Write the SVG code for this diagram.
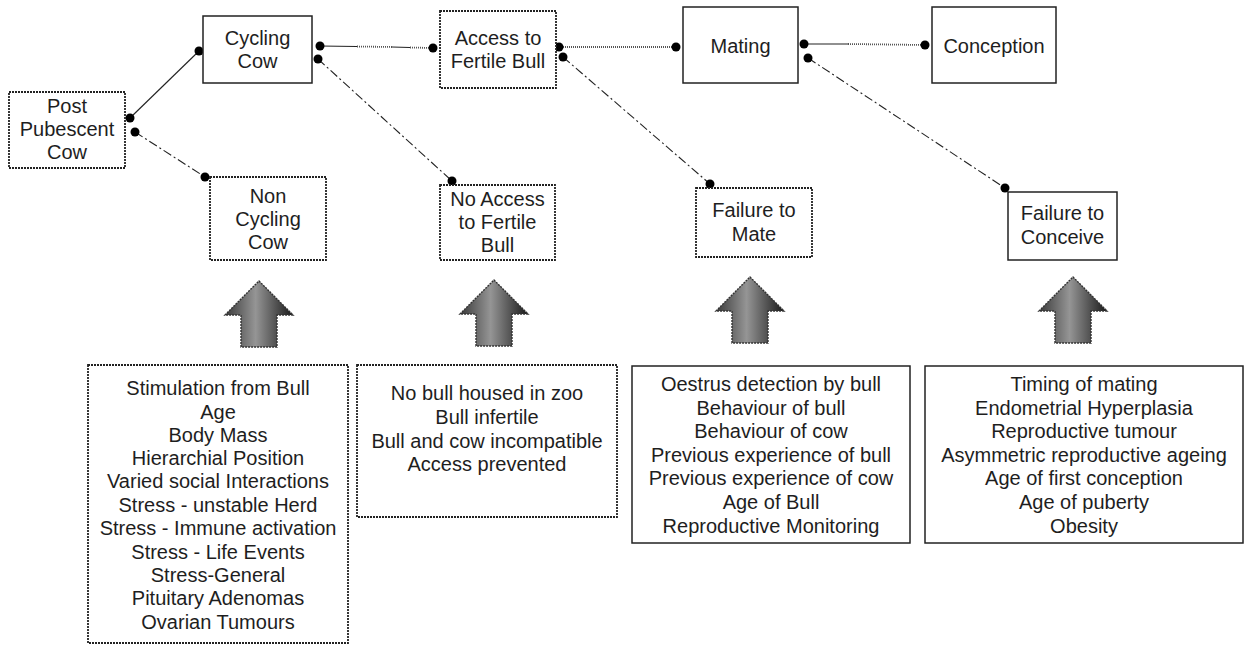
<svg xmlns="http://www.w3.org/2000/svg" width="1245" height="648" viewBox="0 0 1245 648">
<style>
  .box{fill:#fff;stroke:#222;stroke-width:1.5}
  .dot{stroke-dasharray:2 1;stroke-width:1.8}
  .t{font-family:"Liberation Sans",Arial,Helvetica,sans-serif;font-size:20px;fill:#1e1e1e;text-anchor:middle}
  .c{fill:none;stroke:#222;stroke-width:1.1}
  .dd{stroke-dasharray:9 3 2 3}
  .zz{stroke:#555;stroke-width:1.8;stroke-dasharray:1 1}
  .arr{fill:url(#g);stroke:#333;stroke-width:1.4;stroke-dasharray:2 1}
</style>
<defs>
  <linearGradient id="g" x1="0" y1="0" x2="1" y2="0">
    <stop offset="0" stop-color="#3a3a3a"/>
    <stop offset="0.45" stop-color="#959595"/>
    <stop offset="1" stop-color="#1a1a1a"/>
  </linearGradient>
  <marker id="m" viewBox="-5 -5 10 10" markerWidth="10" markerHeight="10" markerUnits="userSpaceOnUse" refX="0" refY="0">
    <circle r="4.5" fill="#000"/>
  </marker>
  <path id="up" d="M0,0 L34,34 L18,34 L18,66 L-18,66 L-18,34 L-34,34 Z"/>
</defs>

<g id="connectors">
  <line class="c" x1="130" y1="118" x2="199" y2="51" marker-start="url(#m)" marker-end="url(#m)"/>
  <line class="c dd" x1="135" y1="132" x2="205" y2="177" marker-start="url(#m)" marker-end="url(#m)"/>
  <g>
    <line class="c" x1="320" y1="46" x2="357" y2="46.5" marker-start="url(#m)"/>
    <line class="c zz" x1="357" y1="46.5" x2="392" y2="47"/>
    <line class="c" x1="392" y1="47" x2="410" y2="47.5"/>
    <line class="c zz" x1="410" y1="47.5" x2="433" y2="48" marker-end="url(#m)"/>
  </g>
  <line class="c dd" x1="318" y1="59" x2="452" y2="181" marker-start="url(#m)" marker-end="url(#m)"/>
  <line class="c zz" x1="559" y1="47" x2="676" y2="47" marker-start="url(#m)" marker-end="url(#m)"/>
  <line class="c dd" x1="563" y1="57" x2="710" y2="184" marker-start="url(#m)" marker-end="url(#m)"/>
  <g>
    <line class="c" x1="804" y1="44" x2="848" y2="44" marker-start="url(#m)"/>
    <line class="c zz" x1="848" y1="44" x2="925" y2="45" marker-end="url(#m)"/>
  </g>
  <line class="c dd" x1="808" y1="58" x2="1005" y2="188" marker-start="url(#m)" marker-end="url(#m)"/>
</g>

<g id="post-pubescent-cow">
  <rect class="box dot" x="9" y="92" width="116" height="76"/>
  <text class="t" x="67" y="113">Post</text>
  <text class="t" x="67" y="136">Pubescent</text>
  <text class="t" x="67" y="159">Cow</text>
</g>
<g id="cycling-cow">
  <rect class="box" x="203" y="16" width="109" height="67"/>
  <text class="t" x="257.5" y="45">Cycling</text>
  <text class="t" x="257.5" y="68">Cow</text>
</g>
<g id="non-cycling-cow">
  <rect class="box dot" x="210" y="177" width="116" height="83"/>
  <text class="t" x="268" y="203">Non</text>
  <text class="t" x="268" y="226">Cycling</text>
  <text class="t" x="268" y="249">Cow</text>
</g>
<g id="access-fertile-bull">
  <rect class="box dot" x="440" y="11" width="116" height="77"/>
  <text class="t" x="498" y="45">Access to</text>
  <text class="t" x="498" y="68">Fertile Bull</text>
</g>
<g id="no-access-fertile-bull">
  <rect class="box dot" x="440" y="185" width="115" height="75"/>
  <text class="t" x="497.5" y="206">No Access</text>
  <text class="t" x="497.5" y="229">to Fertile</text>
  <text class="t" x="497.5" y="252">Bull</text>
</g>
<g id="mating">
  <rect class="box" x="683" y="7" width="115" height="76"/>
  <text class="t" x="740.5" y="53">Mating</text>
</g>
<g id="conception">
  <rect class="box" x="932" y="7" width="124" height="76"/>
  <text class="t" x="994" y="53">Conception</text>
</g>
<g id="failure-to-mate">
  <rect class="box dot" x="696" y="188" width="116" height="69"/>
  <text class="t" x="754" y="217">Failure to</text>
  <text class="t" x="754" y="241">Mate</text>
</g>
<g id="failure-to-conceive">
  <rect class="box" x="1008" y="192" width="109" height="68"/>
  <text class="t" x="1062.5" y="220">Failure to</text>
  <text class="t" x="1062.5" y="244">Conceive</text>
</g>

<g id="arrow-1"><use href="#up" class="arr" transform="translate(259,281)"/></g>
<g id="arrow-2"><use href="#up" class="arr" transform="translate(494,280)"/></g>
<g id="arrow-3"><use href="#up" class="arr" transform="translate(750,277)"/></g>
<g id="arrow-4"><use href="#up" class="arr" transform="translate(1073,277)"/></g>

<g id="factors-cycling">
  <rect class="box dot" x="88" y="365" width="260" height="278"/>
  <text class="t" x="218" y="395">Stimulation from Bull</text>
  <text class="t" x="218" y="419">Age</text>
  <text class="t" x="218" y="442">Body Mass</text>
  <text class="t" x="218" y="465">Hierarchial Position</text>
  <text class="t" x="218" y="488">Varied social Interactions</text>
  <text class="t" x="218" y="512">Stress - unstable Herd</text>
  <text class="t" x="218" y="535">Stress - Immune activation</text>
  <text class="t" x="218" y="559">Stress - Life Events</text>
  <text class="t" x="218" y="582">Stress-General</text>
  <text class="t" x="218" y="605">Pituitary Adenomas</text>
  <text class="t" x="218" y="629">Ovarian Tumours</text>
</g>
<g id="factors-access">
  <rect class="box dot" x="357" y="365" width="260" height="152"/>
  <text class="t" x="487" y="400">No bull housed in zoo</text>
  <text class="t" x="487" y="424">Bull infertile</text>
  <text class="t" x="487" y="448">Bull and cow incompatible</text>
  <text class="t" x="487" y="471">Access prevented</text>
</g>
<g id="factors-mating">
  <rect class="box" x="632" y="366" width="278" height="177"/>
  <text class="t" x="771" y="391">Oestrus detection by bull</text>
  <text class="t" x="771" y="415">Behaviour of bull</text>
  <text class="t" x="771" y="438">Behaviour of cow</text>
  <text class="t" x="771" y="462">Previous experience of bull</text>
  <text class="t" x="771" y="485">Previous experience of cow</text>
  <text class="t" x="771" y="509">Age of Bull</text>
  <text class="t" x="771" y="533">Reproductive Monitoring</text>
</g>
<g id="factors-conception">
  <rect class="box" x="925" y="366" width="318" height="177"/>
  <text class="t" x="1084" y="391">Timing of mating</text>
  <text class="t" x="1084" y="415">Endometrial Hyperplasia</text>
  <text class="t" x="1084" y="438">Reproductive tumour</text>
  <text class="t" x="1084" y="462">Asymmetric reproductive ageing</text>
  <text class="t" x="1084" y="485">Age of first conception</text>
  <text class="t" x="1084" y="509">Age of puberty</text>
  <text class="t" x="1084" y="533">Obesity</text>
</g>
</svg>
